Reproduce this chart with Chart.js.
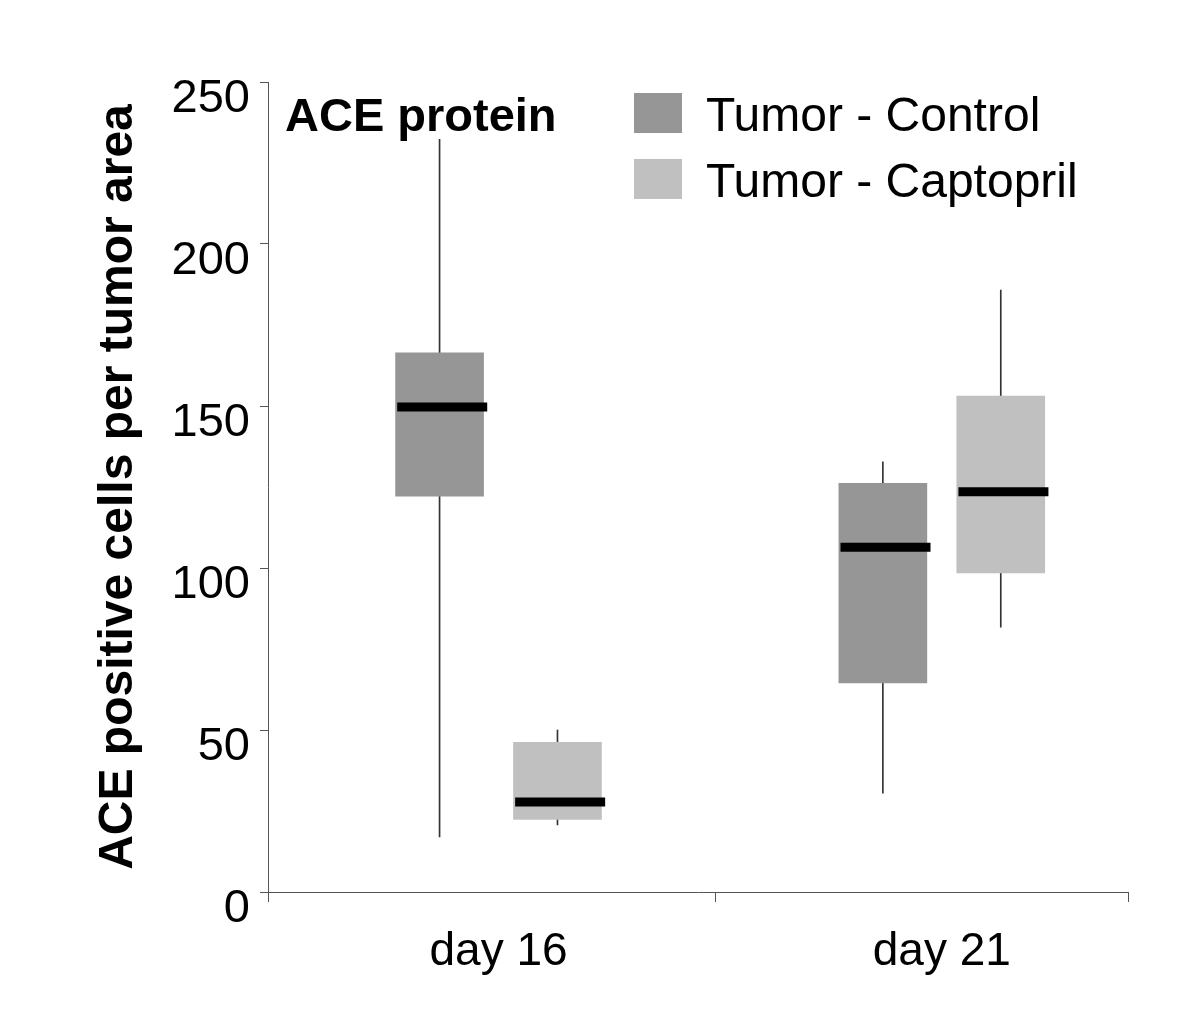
<!DOCTYPE html>
<html>
<head>
<meta charset="utf-8">
<script src="https://cdn.jsdelivr.net/npm/chart.js@4.4.1/dist/chart.umd.min.js"></script>
<style>
  html, body { margin: 0; padding: 0; background: #fff; }
  #wrap { width: 1200px; height: 1024px; }
</style>
</head>
<body>
<div id="wrap"><canvas id="chart" width="1200" height="1024"></canvas></div>
<script>
const categories = ['day 16', 'day 21'];
const yTicks = [0, 50, 100, 150, 200, 250];

// Tumor - Control
const controlMin = [17, 30.5];
const controlQ1 = [122.2, 64.5];
const controlMedian = [149.7, 106.4];
const controlQ3 = [166.4, 126.1];
const controlMax = [232.3, 132.8];

// Tumor - Captopril
const captoprilMin = [20.7, 81.7];
const captoprilQ1 = [22.4, 98.5];
const captoprilMedian = [27.8, 123.5];
const captoprilQ3 = [46.2, 153.1];
const captoprilMax = [50, 185.8];

const groups = [
    { label: 'Tumor - Control', color: '#969696', shift: -0.133,
      min: controlMin, q1: controlQ1, median: controlMedian, q3: controlQ3, max: controlMax },
    { label: 'Tumor - Captopril', color: '#c0c0c0', shift: 0.133,
      min: captoprilMin, q1: captoprilQ1, median: captoprilMedian, q3: captoprilQ3, max: captoprilMax }
];

const datasets = [];
groups.forEach(g => {
    datasets.push({
        type: 'bar', label: g.label, isBox: true, order: 1,
        data: categories.map((c, i) => ({ x: i + g.shift, y: [g.q1[i], g.q3[i]] })),
        backgroundColor: g.color, barThickness: 88, grouped: false
    });
    datasets.push({
        type: 'bar', label: g.label + ' whisker', order: 2,
        data: categories.map((c, i) => ({ x: i + g.shift, y: [g.min[i], g.max[i]] })),
        backgroundColor: '#333', barThickness: 1, grouped: false
    });
    datasets.push({
        type: 'scatter', label: g.label + ' median', order: 0,
        data: categories.map((c, i) => ({ x: i + g.shift + 0.006, y: g.median[i] })),
        pointStyle: 'line', pointRadius: 45, pointHoverRadius: 45,
        borderColor: '#000', pointBorderWidth: 9, pointHoverBorderWidth: 9
    });
});

const FONT = "'Liberation Sans', Arial, Helvetica, sans-serif";

const isCat = v => Math.abs(v - Math.round(v)) < 1e-6;

const annotations = {
    id: 'annotations',
    afterDraw(chart) {
        const { ctx, chartArea } = chart;
        ctx.save();
        ctx.fillStyle = '#000';
        ctx.textBaseline = 'alphabetic';
        ctx.font = 'bold 47px ' + FONT;
        ctx.fillText('ACE protein', chartArea.left + 17, chartArea.top + 49);

        // legend
        const boxes = chart.data.datasets.filter(d => d.isBox);
        ctx.font = '48px ' + FONT;
        boxes.forEach((d, k) => {
            const y = chartArea.top + 11 + k * 66;
            ctx.fillStyle = d.backgroundColor;
            ctx.fillRect(chartArea.left + 366, y, 48, 40);
            ctx.fillStyle = '#000';
            ctx.fillText(d.label, chartArea.left + 438, y + 38);
        });
        ctx.restore();
    }
};

new Chart(document.getElementById('chart'), {
    data: { datasets },
    options: {
        responsive: false,
        animation: false,
        layout: { padding: { left: 90, top: 82, right: 72, bottom: 0 } },
        plugins: { legend: { display: false }, tooltip: { enabled: false } },
        scales: {
            x: {
                type: 'linear',
                offset: false,
                min: -0.52, max: 1.42,
                afterBuildTicks: s => { s.ticks = [-0.52, 0, 0.49, 1, 1.42].map(v => ({ value: v })); },
                afterFit: s => { s.height = 132; },
                grid: {
                    offset: false, drawOnChartArea: false, tickLength: 10,
                    tickColor: c => (c.tick && isCat(c.tick.value)) ? 'rgba(0,0,0,0)' : '#555'
                },
                border: { color: '#555', width: 1 },
                ticks: {
                    autoSkip: false, maxRotation: 0, padding: 23, color: '#000',
                    font: { family: FONT, size: 46 },
                    callback: v => isCat(v) ? categories[Math.round(v)] : ''
                }
            },
            y: {
                min: 0, max: 250,
                afterBuildTicks: s => { s.ticks = yTicks.map(v => ({ value: v })); },
                afterFit: s => { s.width = 178; },
                grid: { drawOnChartArea: false, tickLength: 8, tickColor: '#555' },
                border: { color: '#555', width: 1 },
                ticks: {
                    padding: 10, color: '#000', labelOffset: 17,
                    font: { family: FONT, size: 47 }
                },
                title: {
                    display: true, text: 'ACE positive cells per tumor area',
                    color: '#000', padding: 0,
                    font: { family: FONT, size: 48, weight: 'bold' }
                }
            }
        }
    },
    plugins: [annotations]
});
</script>
</body>
</html>
